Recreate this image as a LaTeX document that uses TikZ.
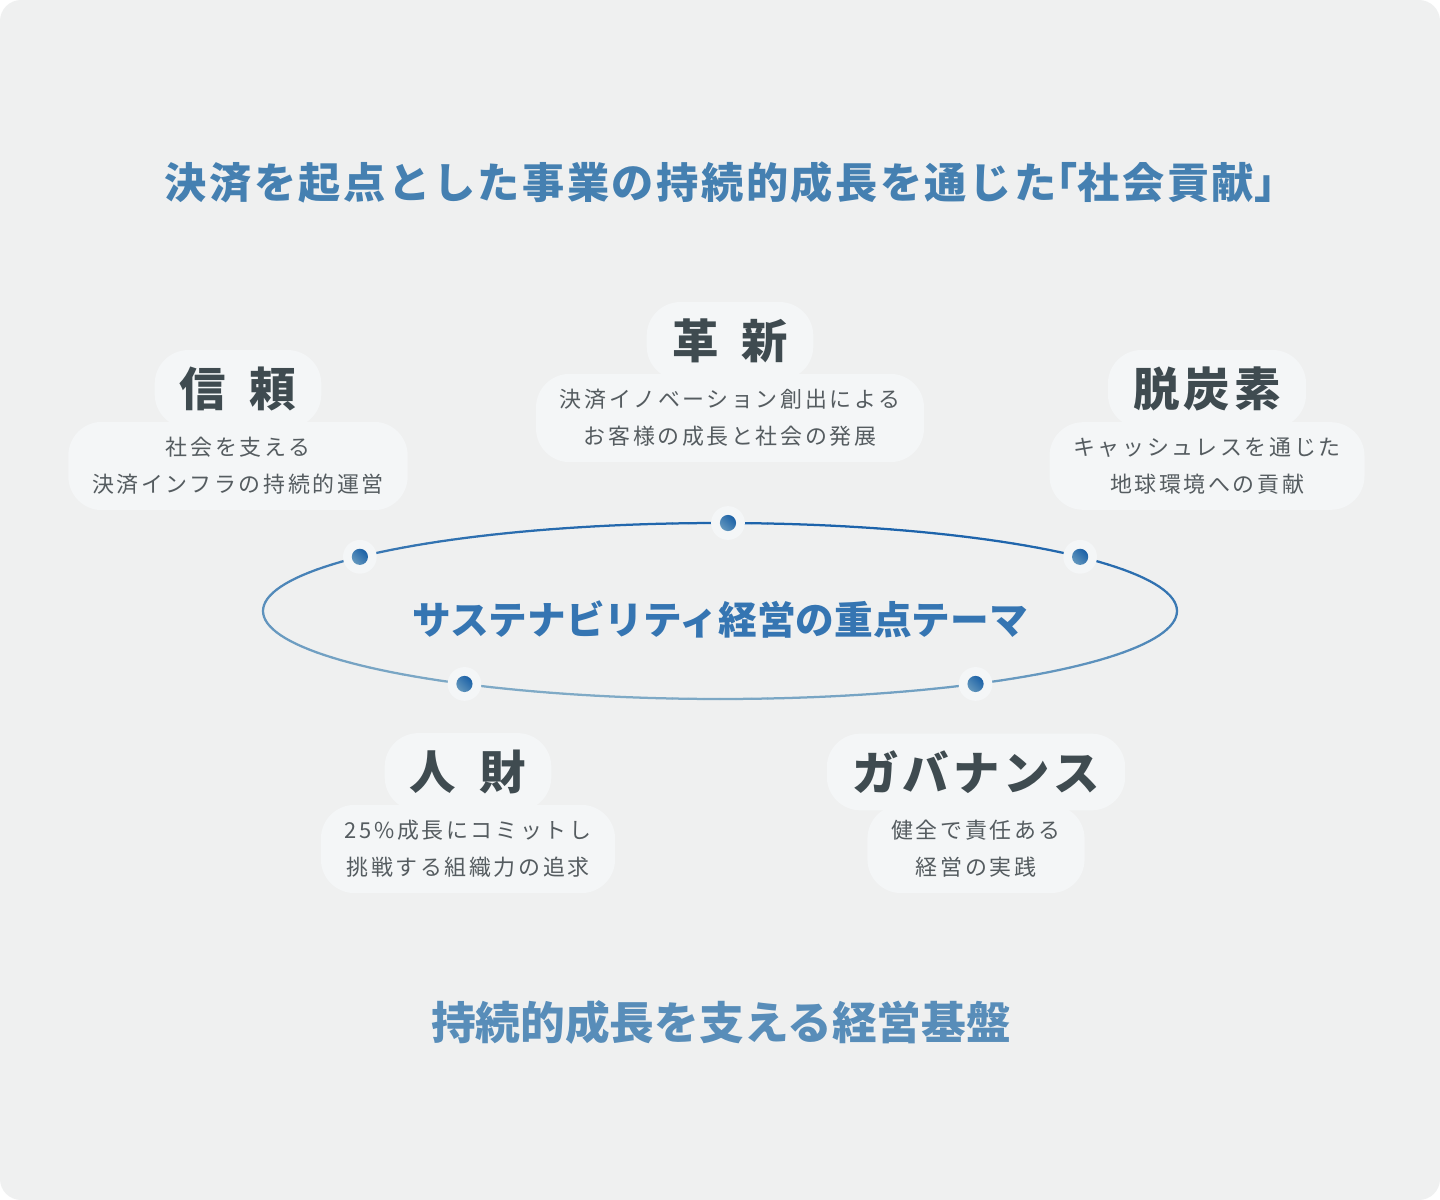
\documentclass[tikz,border=0pt]{standalone}
\usepackage{fontspec}
\setmainfont{Noto Sans CJK JP}
\newfontfamily\spacedfont{Noto Sans CJK JP}[LetterSpace=9]
\newfontfamily\bodyfont{Noto Sans CJK JP}[LetterSpace=12]
\newfontfamily\titlefont{Noto Sans CJK JP}[LetterSpace=6]
\usetikzlibrary{positioning}

\definecolor{bgfill}{HTML}{EFF0F0}
\definecolor{halo}{HTML}{F4F6F7}
\definecolor{headgray}{HTML}{3F4B50}
\definecolor{bodygray}{HTML}{555C60}
\definecolor{titleblue}{HTML}{4580B1}
\definecolor{ringdark}{HTML}{1C63AB}
\definecolor{ringlight}{HTML}{7FAAC6}
\definecolor{dotdark}{HTML}{1A60A6}
\definecolor{dotlight}{HTML}{6397BD}

\newcommand{\halfbr}[1]{{\addfontfeatures{RawFeature=+halt}#1}}
\newcommand{\wgap}{\hspace{0.5em}}

\begin{document}
\begin{tikzpicture}[x=0.025cm,y=-0.025cm,
    themehead/.style={font=\spacedfont\bfseries\fontsize{33}{33}\selectfont,text=headgray,
      fill=halo,rounded corners=24pt,inner xsep=18pt,inner ysep=12pt},
    themebody/.style={font=\bodyfont\fontsize{15.6}{26.3}\selectfont,text=bodygray,
      fill=halo,rounded corners=24pt,inner xsep=17pt,inner ysep=11pt,align=center},
    dothalo/.style={circle,fill=halo,minimum size=24pt,inner sep=0},
    ringdot/.style={circle,minimum size=11.5pt,inner sep=0,
      top color=dotdark,bottom color=dotlight,shading angle=-45}]
    \useasboundingbox (0,0) rectangle (1440,1200);
    \fill[white] (0,0) rectangle (1440,1200);
    \fill[bgfill,rounded corners=15pt] (0,0) rectangle (1440,1200);

    % titles
    \node[font=\titlefont\bfseries\fontsize{30}{30}\selectfont,text=titleblue] (title) at (720,182)
      {決済を起点とした事業の持続的成長を通じた\halfbr{「}社会貢献\halfbr{」}};
    \node[font=\bfseries\fontsize{31.8}{31.8}\selectfont,text=titleblue!90!white] (base) at (721,1022)
      {持続的成長を支える経営基盤};

    % ring
    \foreach \a in {0,2,...,358}{
      \pgfmathsetmacro\ringmix{max(0,min(100,50+50*(0.3*cos(\a+1)+0.95*sin(\a+1))))}
      \draw[line width=1.6pt,line cap=round,color=ringdark!\ringmix!ringlight]
        ({720+457*cos(\a)},{611-88*sin(\a)}) -- ({720+457*cos(\a+2)},{611-88*sin(\a+2)});
    }
    \node[font=\bfseries\fontsize{27.5}{27.5}\selectfont,text=ringdark!75!ringlight] (core) at (720,620)
      {サステナビリティ経営の重点テーマ};

    % dots on the ring
    \foreach \a/\name in {89/dinno,142/dtrust,38/dcarbon,236/dpeople,304/dgov}{
      \node[dothalo] (\name) at ({720+457*cos(\a)},{611-88*sin(\a)}) {};
      \node[ringdot] at (\name) {};
    }

    % themes
    \node[themehead] (inno) at (730,341) {革\wgap 新};
    \node[themebody] (innotxt) at (730,418) {決済イノベーション創出による\\お客様の成長と社会の発展};

    \node[themehead] (trust) at (238,389) {信\wgap 頼};
    \node[themebody] (trusttxt) at (238,466) {社会を支える\\決済インフラの持続的運営};

    \node[themehead] (carbon) at (1207,389) {脱炭素};
    \node[themebody] (carbontxt) at (1207,466) {キャッシュレスを通じた\\地球環境への貢献};

    \node[themehead] (people) at (468,772) {人\wgap 財};
    \node[themebody] (peopletxt) at (468,849) {25\%成長にコミットし\\挑戦する組織力の追求};

    \node[themehead] (gov) at (976,772) {ガバナンス};
    \node[themebody] (govtxt) at (976,849) {健全で責任ある\\経営の実践};
\end{tikzpicture}
\end{document}
